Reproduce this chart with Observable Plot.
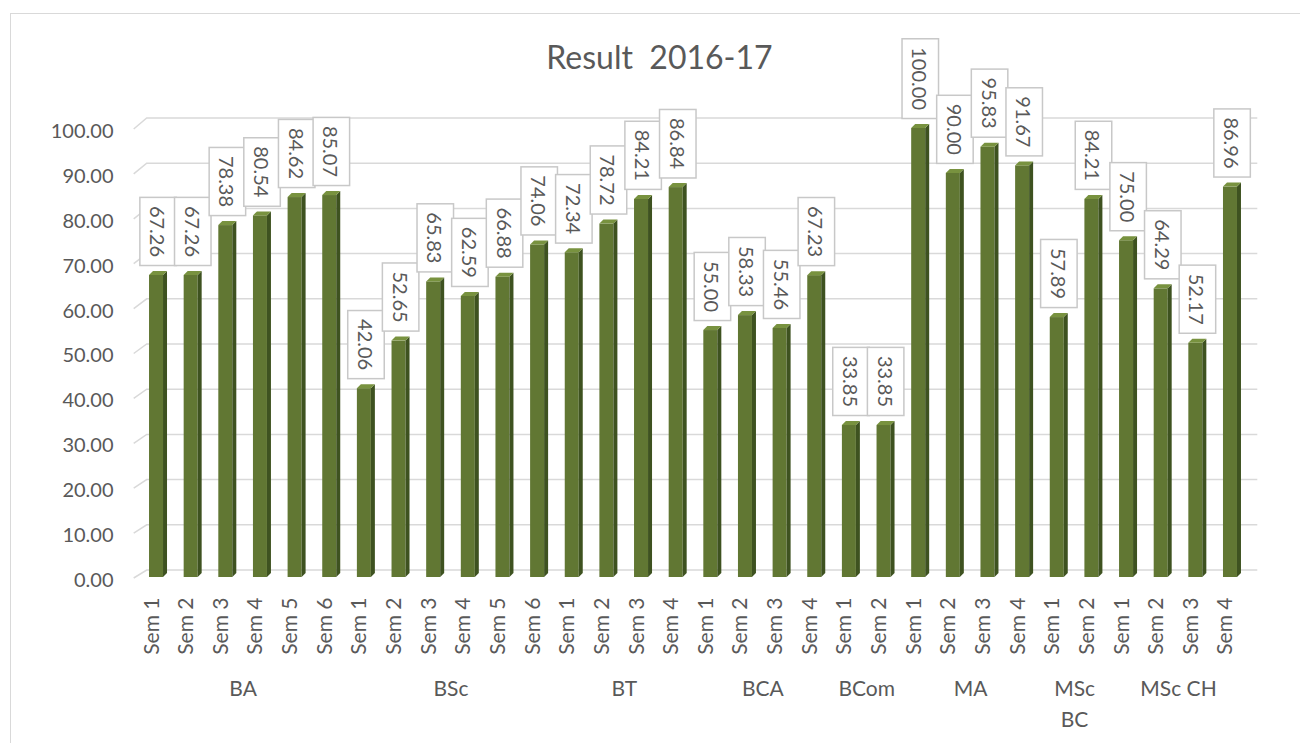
<!DOCTYPE html>
<html>
<head>
<meta charset="utf-8">
<script src="https://cdn.jsdelivr.net/npm/d3@7"></script>
<script src="https://cdn.jsdelivr.net/npm/@observablehq/plot@0.6"></script>
<style>
  html, body { margin: 0; padding: 0; background: #fff; }
  body { width: 1300px; height: 743px; position: relative; overflow: hidden; font-family: Lato, sans-serif; }
  #frame { position: absolute; left: 10px; top: 13px; width: 1300px; height: 740px; border: 1.5px solid #d9d9d9; box-sizing: border-box; }
  #chart { position: absolute; left: 0; top: 0; }
  #title { position: absolute; left: 0; width: 1319px; top: 41px; text-align: center; font-size: 32px; line-height: 32px; color: #595959; white-space: pre; }
</style>
</head>
<body>
<div id="frame"></div>
<div id="chart"></div>
<div id="title">Result  2016-17</div>
<script>
// ---- data ----
const programs = ["BA", "BSc", "BT", "BCA", "BCom", "MA", "MSc BC", "MSc CH"];
const programLabels = ["BA", "BSc", "BT", "BCA", "BCom", "MA", "MSc\nBC", "MSc CH"];
const semesterCounts = [6, 6, 4, 4, 2, 4, 2, 4];
const semesters = [
  "Sem 1", "Sem 2", "Sem 3", "Sem 4", "Sem 5", "Sem 6",
  "Sem 1", "Sem 2", "Sem 3", "Sem 4", "Sem 5", "Sem 6",
  "Sem 1", "Sem 2", "Sem 3", "Sem 4",
  "Sem 1", "Sem 2", "Sem 3", "Sem 4",
  "Sem 1", "Sem 2",
  "Sem 1", "Sem 2", "Sem 3", "Sem 4",
  "Sem 1", "Sem 2",
  "Sem 1", "Sem 2", "Sem 3", "Sem 4"
];
const results = [
  67.26, 67.26, 78.38, 80.54, 84.62, 85.07,
  42.06, 52.65, 65.83, 62.59, 66.88, 74.06,
  72.34, 78.72, 84.21, 86.84,
  55.00, 58.33, 55.46, 67.23,
  33.85, 33.85,
  100.00, 90.00, 95.83, 91.67,
  57.89, 84.21,
  75.00, 64.29, 52.17, 86.96
];
const yTicks = [0, 10, 20, 30, 40, 50, 60, 70, 80, 90, 100];

// ---- build tables ----
const bars = [];
const groups = [];
{
  let k = 0;
  programs.forEach((p, gi) => {
    const start = k;
    for (let j = 0; j < semesterCounts[gi]; j++, k++) {
      bars.push({key: k, program: p, sem: semesters[k], value: results[k]});
    }
    groups.push({program: p, label: programLabels[gi], midKey: start + semesterCounts[gi] / 2});
  });
}

// ---- layout ----
const W = 1300, H = 743;
const ML = 138.7, MR = 52.7, MT = 128, MB = 166;
const N = bars.length;
const step = (W - ML - MR) / N;
const frontW = 14, depth = 4;
const inset = (step - frontW) / 2;
const TXT = "#595959", GRID = "#d9d9d9";
const FRONT = "#617733", SIDE = "#3e5220", TOP = "#78923f";
const fmt = d3.format(".2f");

let labelG = null;

function gridRender(index, scales, values) {
  const g = d3.create("svg:g").attr("fill", "none").attr("stroke", GRID).attr("stroke-width", 1.5);
  const y0 = scales.y(0);
  const ratio = 452 / 449;
  for (const i of index) {
    const yf = values.y[i];
    const yb = (y0 - 7) + (yf - y0) * ratio;
    g.append("path").attr("d", `M${ML - 5},${yf + 1}L${ML + 8},${yb}H${W - MR + 10}`);
  }
  return g.node();
}

function barsRender(index, scales, values, dimensions, context, next) {
  const g = next(index, scales, values, dimensions, context);
  const sel = d3.select(g);
  const extra = [];
  sel.selectAll("rect").each(function () {
    const x = +this.getAttribute("x"), y = +this.getAttribute("y");
    const w = +this.getAttribute("width"), h = +this.getAttribute("height");
    extra.push({x, y, w, h});
  });
  for (const r of extra) {
    sel.append("path").attr("fill", SIDE)
      .attr("d", `M${r.x + r.w},${r.y}L${r.x + r.w + depth},${r.y - depth}V${r.y + r.h - depth}L${r.x + r.w},${r.y + r.h}Z`);
    sel.append("path").attr("fill", TOP)
      .attr("d", `M${r.x},${r.y}L${r.x + depth},${r.y - depth}H${r.x + r.w + depth}L${r.x + r.w},${r.y}Z`);
  }
  return g;
}

const chart = Plot.plot({
  width: W,
  height: H,
  marginLeft: ML,
  marginRight: MR,
  marginTop: MT,
  marginBottom: MB,
  style: {fontFamily: "Lato, sans-serif", color: TXT, background: "transparent", overflow: "visible"},
  x: {type: "band", domain: bars.map(d => d.key), padding: 0, round: false, axis: null},
  y: {domain: [0, 100], axis: null},
  marks: [
    Plot.ruleY(yTicks, {y: d => d, render: gridRender}),
    Plot.barY(bars, {x: "key", y: "value", fill: FRONT, insetLeft: inset, insetRight: inset, render: barsRender}),
    Plot.text(bars, {
      x: "key", y: "value", text: d => fmt(d.value), rotate: 90, textAnchor: "end",
      dy: -18.5, fontSize: 20, fill: TXT,
      render(index, scales, values, dimensions, context, next) {
        const g = next(index, scales, values, dimensions, context);
        labelG = g;
        return g;
      }
    }),
    Plot.text(yTicks, {y: d => d, text: d => fmt(d), frameAnchor: "left", textAnchor: "end", dx: -25.7, dy: 3, fontSize: 20, fill: TXT}),
    Plot.text(bars, {x: "key", text: "sem", frameAnchor: "bottom", rotate: -90, textAnchor: "end", dx: 2, dy: 20, fontSize: 21, fill: TXT}),
    Plot.text(groups, {x: "midKey", text: "label", frameAnchor: "bottom", dx: -step / 2, dy: 97, lineAnchor: "top", lineHeight: 1.45, fontSize: 21, fill: TXT})
  ]
});

document.getElementById("chart").appendChild(chart);

// draw label boxes behind each value label, sized to the rendered text
if (labelG) {
  d3.select(labelG).selectAll("text").each(function () {
    const bb = this.getBBox();
    const padX = 8.5, padY = 6.25;
    const r = document.createElementNS("http://www.w3.org/2000/svg", "rect");
    r.setAttribute("x", bb.x - padX);
    r.setAttribute("y", bb.y - padY);
    r.setAttribute("width", bb.width + 2 * padX);
    r.setAttribute("height", bb.height + 2 * padY);
    r.setAttribute("fill", "#ffffff");
    r.setAttribute("stroke", "#c8c8c8");
    r.setAttribute("stroke-width", 1.5);
    r.setAttribute("transform", this.getAttribute("transform"));
    this.parentNode.insertBefore(r, this);
  });
}
</script>
</body>
</html>
